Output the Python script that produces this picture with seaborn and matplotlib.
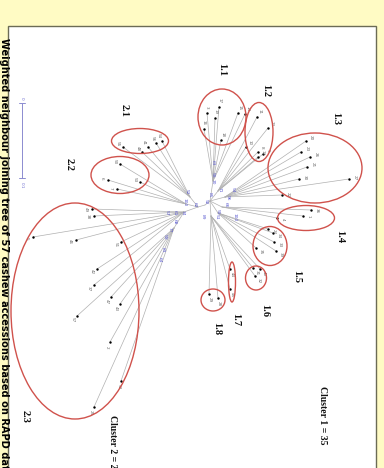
import numpy as np
import pandas as pd
import matplotlib.pyplot as plt
from matplotlib.patches import Ellipse, Rectangle
import seaborn as sns

sns.set_style('white')
plt.rcParams['font.family'] = ['DejaVu Sans']

# leaf positions of the tree (layout units = reference pixels, y downwards)
c11_x = [219, 207, 215, 204, 221, 238, 245]
c11_y = [107, 113, 118, 129, 140, 113, 114]
c12_x = [257, 268, 246, 258, 263, 258]
c12_y = [117, 128, 147, 152, 154, 157]
c13_x = [306, 301, 310, 307, 299, 349, 282]
c13_y = [141, 152, 157, 167, 179, 179, 195]
c14_x = [311, 303, 277]
c14_y = [210, 216, 218]
c15_x = [268, 273, 274, 256, 276]
c15_y = [229, 233, 242, 248, 251]
c16_x = [253, 260, 255]
c16_y = [268, 269, 276]
c17_x = [230, 230]
c17_y = [269, 289]
c18_x = [209, 218]
c18_y = [294, 298]
c21_x = [123, 142, 148, 156, 162]
c21_y = [147, 152, 147, 143, 141]
c22_x = [120, 108, 140, 117]
c22_y = [164, 180, 182, 189]
c23_x = [92, 94, 33, 76, 121, 97, 94, 111, 120, 77, 110, 121, 94]
c23_y = [209, 216, 237, 240, 242, 269, 285, 297, 304, 316, 342, 381, 407]

leaf_ids = {
    '1.1': [17, 3, 19, 16, 18, 15, 14],
    '1.2': [11, 13, 10, 8, 9, 12],
    '1.3': [20, 23, 26, 21, 30, 27, 22],
    '1.4': [36, 1, 4],
    '1.5': [24, 34, 33, 35, 39],
    '1.6': [31, 40, 32],
    '1.7': [44, 45],
    '1.8': [29, 28],
    '2.1': [55, 48, 41, 56, 54],
    '2.2': [50, 6, 53, 7],
    '2.3': [49, 38, 5, 46, 51, 42, 37, 47, 43, 57, 2, 52, 25],
}

# internal nodes: name -> (x, y, parent)
nodes = {
    'hub': (205, 205, None),
    'n1': (210, 201, 'hub'),
    'n11': (213, 181, 'n1'),
    'n12': (218, 191, 'n1'),
    'n13': (225, 197, 'n1'),
    'n14': (222, 207, 'n1'),
    'n15': (218, 213, 'n1'),
    'n16': (211, 216, 'n1'),
    'n2': (198, 207, 'hub'),
    'n21': (190, 197, 'n2'),
    'n22': (186, 204, 'n2'),
    'n23a': (184, 212, 'n2'),
    'n23b': (174, 228, 'n23a'),
}
cluster_node = {'1.1': 'n11', '1.2': 'n12', '1.3': 'n13', '1.4': 'n14',
                '1.5': 'n15', '1.6': 'n16', '1.7': 'n16', '1.8': 'n16',
                '2.1': 'n21', '2.2': 'n22', '2.3': 'n23a'}

# bootstrap labels near the centre
boot_x = [213, 213, 220, 233, 226, 187, 185, 175, 167, 183, 203, 218, 235,
          206, 175, 170, 165, 163, 160, 217, 213, 228, 195, 210]
boot_y = [163, 175, 190, 190, 205, 192, 202, 213, 213, 213, 217, 212, 217,
          202, 222, 230, 237, 250, 260, 217, 182, 198, 205, 195]
boot_val = ['63', '58', '71', '54', '66', '52', '100', '61', '57', '74', '89', '55', '100',
            '92', '68', '77', '59', '83', '64', '51', '70', '96', '62', '85']

# ellipses round the sub-clusters: (cx, cy, w, h)
ellipses = {
    '1.1': (222, 117, 48, 56), '1.2': (259, 132, 28, 59), '1.3': (315, 168, 94, 70),
    '1.4': (306, 218, 57, 25), '1.5': (270, 246, 34, 39), '1.6': (256, 278, 21, 24),
    '1.7': (232, 282, 7, 40), '1.8': (213, 300, 24, 22), '2.1': (140, 141, 57, 25),
    '2.2': (120, 175, 58, 37), '2.3': (75, 311, 128, 216),
}
cluster_label_pos = {
    '1.1': (222, 70), '1.2': (266, 90), '1.3': (336, 118), '1.4': (340, 237),
    '1.5': (297, 276), '1.6': (265, 310), '1.7': (236, 320), '1.8': (217, 329),
    '2.1': (124, 110), '2.2': (69, 164), '2.3': (25, 416),
}

coords = {'1.1': (c11_x, c11_y), '1.2': (c12_x, c12_y), '1.3': (c13_x, c13_y),
          '1.4': (c14_x, c14_y), '1.5': (c15_x, c15_y), '1.6': (c16_x, c16_y),
          '1.7': (c17_x, c17_y), '1.8': (c18_x, c18_y), '2.1': (c21_x, c21_y),
          '2.2': (c22_x, c22_y), '2.3': (c23_x, c23_y)}

rows = []
for cl, (xs, ys) in coords.items():
    for i, (x, y) in enumerate(zip(xs, ys)):
        parent = cluster_node[cl]
        if cl == '2.3' and i >= 7:
            parent = 'n23b'
        rows.append({'x': x, 'y': y, 'cluster': cl, 'id': leaf_ids[cl][i], 'parent': parent})
leaves = pd.DataFrame(rows)

fig = plt.figure(figsize=(3.84, 4.68), dpi=100)
fig.patch.set_facecolor('#fffbc4')
ax = fig.add_axes([0, 0, 1, 1])
ax.set_facecolor('#fffbc4')

ax.add_patch(Rectangle((7.5, 25.5), 368.5, 460, facecolor='white',
                       edgecolor='#6b6b55', lw=1.0, zorder=0))

# branches
line_col = '#b0b0b0'
for name, (x, y, par) in nodes.items():
    if par is not None:
        px, py, _ = nodes[par]
        ax.plot([px, x], [py, y], color=line_col, lw=0.5, zorder=1)
for _, r in leaves.iterrows():
    px, py, _ = nodes[r['parent']]
    ax.plot([px, r['x']], [py, r['y']], color=line_col, lw=0.5, zorder=1)

sns.scatterplot(data=leaves, x='x', y='y', color='black', s=3, linewidth=0,
                ax=ax, zorder=3, legend=False)

# leaf labels, pushed outward from the hub
hx, hy = nodes['hub'][:2]
for _, r in leaves.iterrows():
    dx, dy = r['x'] - hx, r['y'] - hy
    d = np.hypot(dx, dy)
    ax.text(r['x'] + 6 * dx / d, r['y'] + 6 * dy / d, str(r['id']), fontsize=3,
            color='#666666', rotation=-90, ha='center', va='center', zorder=3)

for x, y, v in zip(boot_x, boot_y, boot_val):
    ax.text(x, y, v, fontsize=3.2, color='#5a5ad0', rotation=-90,
            ha='center', va='center', zorder=4)

for cl, (cx, cy, w, h) in ellipses.items():
    ax.add_patch(Ellipse((cx, cy), w, h, fill=False, edgecolor='#d0524c', lw=1.0, zorder=5))
    lx, ly = cluster_label_pos[cl]
    ax.text(lx, ly, cl, fontsize=7.5, fontweight='bold', family='Liberation Serif',
            rotation=-90, ha='center', va='center', color='#111111')

# scale bar
ax.plot([22, 22], [103, 178], color='#8c8cd0', lw=0.7)
ax.plot([19, 25], [103, 103], color='#8c8cd0', lw=0.7)
ax.plot([19, 25], [178, 178], color='#8c8cd0', lw=0.7)
ax.text(22, 98, '0', fontsize=3, color='#6a6ad0', rotation=-90, ha='center', va='center')
ax.text(22, 185, '0.1', fontsize=3, color='#6a6ad0', rotation=-90, ha='center', va='center')

ax.text(323, 386, 'Cluster 1 = 35', fontsize=7, fontweight='bold', family='Liberation Serif',
        rotation=-90, ha='center', va='top', color='#111111')
ax.text(112, 415, 'Cluster 2 = 22', fontsize=7, fontweight='bold', family='Liberation Serif',
        rotation=-90, ha='center', va='top', color='#111111')

ax.text(4, 38, 'Weighted neighbour joining tree of 57 cashew accessions based on RAPD data',
        fontsize=7.1, fontweight='bold', rotation=-90, ha='center', va='top', color='black')

ax.set_xlim(0, 384)
ax.set_ylim(468, 0)
ax.axis('off')

fig.savefig('out.png', dpi=100, facecolor=fig.get_facecolor())
